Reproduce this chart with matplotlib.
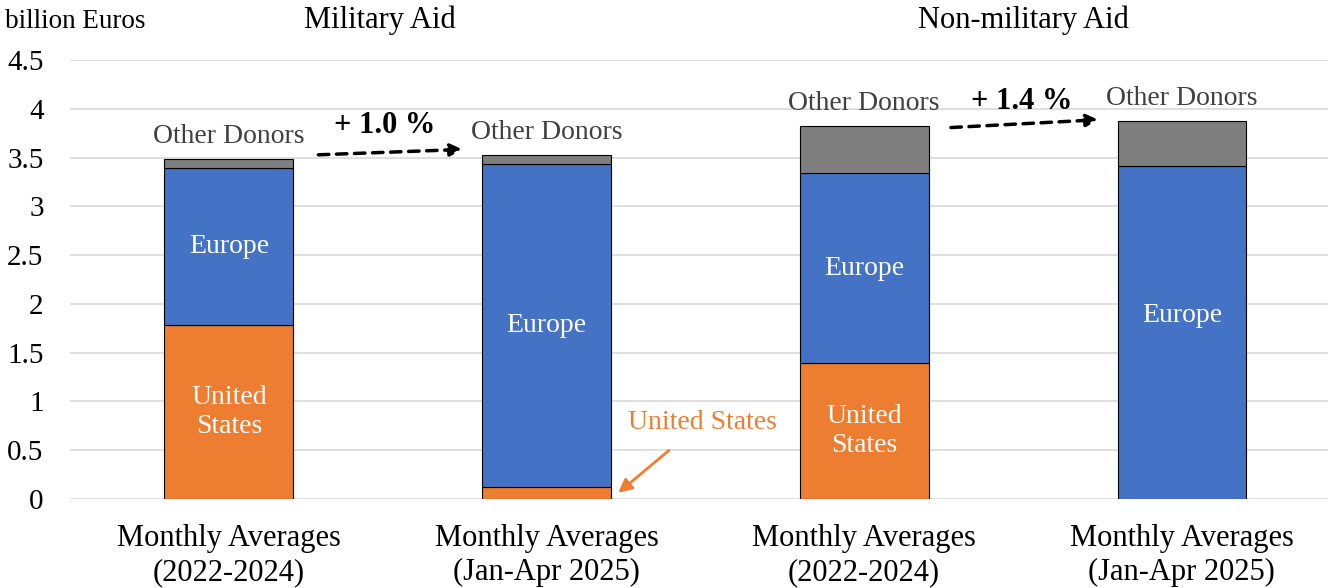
import matplotlib.pyplot as plt
import numpy as np

plt.rcParams['font.family'] = ['Liberation Serif', 'DejaVu Serif']

categories = ['Monthly Averages\n(2022-2024)', 'Monthly Averages\n(Jan-Apr 2025)',
              'Monthly Averages\n(2022-2024)', 'Monthly Averages\n(Jan-Apr 2025)']
us = np.array([1.78, 0.12, 1.39, 0.0])
europe = np.array([1.61, 3.32, 1.95, 3.41])
other = np.array([0.10, 0.09, 0.49, 0.47])
panels = ['Military Aid', 'Non-military Aid']
changes = ['+ 1.0 %', '+ 1.4 %']

c_us = '#ED7D31'
c_eu = '#4472C4'
c_ot = '#7F7F7F'

fig = plt.figure(figsize=(13.28, 5.88), dpi=100)
ax = fig.add_axes([0.0527, 0.152, 0.9473, 0.7454])
x = np.arange(len(categories))
w = 0.405

ax.bar(x, us, w, color=c_us, edgecolor='black', linewidth=0.8, zorder=3)
ax.bar(x, europe, w, bottom=us, color=c_eu, edgecolor='black', linewidth=0.8, zorder=3)
ax.bar(x, other, w, bottom=us + europe, color=c_ot, edgecolor='black', linewidth=0.8, zorder=3)

ax.set_ylim(0, 4.5)
ax.set_xlim(-0.5, 3.46)
ax.set_yticks(np.arange(0, 4.51, 0.5))
ax.set_yticklabels(['0', '0.5', '1', '1.5', '2', '2.5', '3', '3.5', '4', '4.5'])
ax.set_xticks(x)
ax.set_xticklabels(categories, fontsize=22, linespacing=1.25)
ax.tick_params(axis='y', length=0, pad=19, labelsize=21)
ax.tick_params(axis='x', length=0, pad=18)
ax.grid(axis='y', color='#D9D9D9', linewidth=1.2, zorder=0)
for s in ax.spines.values():
    s.set_visible(False)

fig.text(0.004, 0.963, 'billion Euros', fontsize=19.5, va='center', ha='left')
ax.text(0.475, 4.91, panels[0], fontsize=22, ha='center', va='center', clip_on=False)
ax.text(2.5, 4.91, panels[1], fontsize=22, ha='center', va='center', clip_on=False)

tops = us + europe + other
for i in range(4):
    ax.annotate('Other Donors', (x[i], tops[i]), xytext=(0, 7), textcoords='offset points',
                ha='center', va='bottom', fontsize=20, color='#404040')
    if europe[i] > 0:
        yc = us[i] + europe[i] / 2
        if i == 3:
            yc += 0.18
        ax.text(x[i], yc, 'Europe', ha='center', va='center', fontsize=20, color='white', zorder=4)
    if us[i] > 1:
        ax.text(x[i], us[i] / 2, 'United\nStates', ha='center', va='center', fontsize=20,
                color='white', linespacing=1.2, zorder=4)

ax.annotate('United States', xy=(1.226, 0.06), xytext=(1.49, 0.78), fontsize=20, color=c_us,
            ha='center', va='center',
            arrowprops=dict(arrowstyle='-|>', color=c_us, lw=2, shrinkA=14, shrinkB=0,
                            mutation_scale=20))

# dashed change arrows
arrows = [((0.282, 3.53), (0.736, 3.585)), ((2.273, 3.81), (2.738, 3.89))]
labels_pos = [(0.49, 3.83), (2.495, 4.08)]
for (p0, p1), t, lp in zip(arrows, changes, labels_pos):
    ax.annotate('', xy=p1, xytext=p0,
                arrowprops=dict(arrowstyle='-|>', color='black', lw=2.5, linestyle=(0, (3, 2.2)),
                                mutation_scale=18, shrinkA=0, shrinkB=0))
    ax.text(lp[0], lp[1], t, fontsize=22, fontweight='bold', ha='center', va='center')

fig.savefig('out.png', dpi=100)
